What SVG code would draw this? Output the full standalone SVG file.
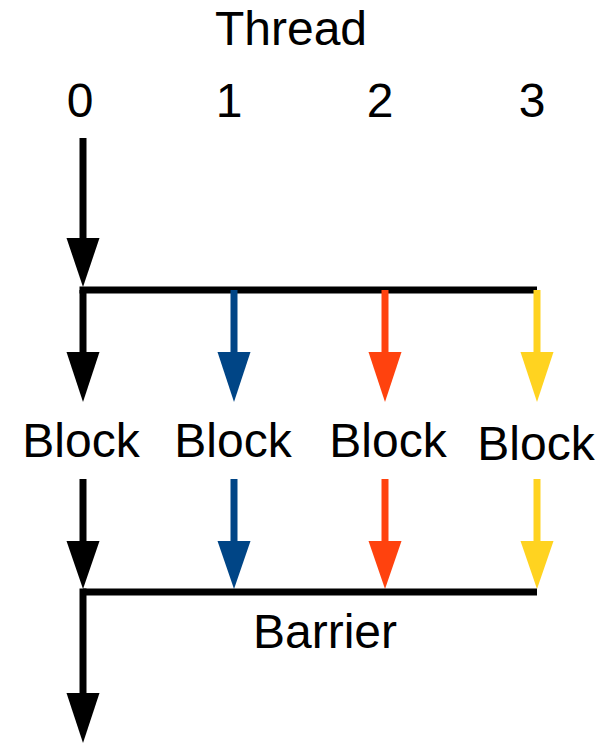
<svg xmlns="http://www.w3.org/2000/svg" width="598" height="743" viewBox="0 0 598 743">
<style>
text{font-family:"Liberation Sans",Arial,sans-serif;font-size:48px;fill:#000;text-anchor:middle}
.s{stroke-width:7;fill:none}
.k{stroke:#000}.kf{fill:#000}
.b{stroke:#004586}.bf{fill:#004586}
.r{stroke:#ff420e}.rf{fill:#ff420e}
.y{stroke:#ffd320}.yf{fill:#ffd320}
</style>
<rect width="598" height="743" fill="#fff"/>
<g id="labels">
<text x="291" y="45">Thread</text>
<text x="80" y="117">0</text>
<text x="229" y="117">1</text>
<text x="380" y="117">2</text>
<text x="532" y="117">3</text>
</g>
<g id="block0"><text x="81" y="457">Block</text></g>
<g id="block1"><text x="233" y="457">Block</text></g>
<g id="block2"><text x="388" y="457">Block</text></g>
<g id="block3"><text x="536" y="460">Block</text></g>
<g id="barrier"><text x="325" y="648">Barrier</text></g>
<g id="connectors">
<line class="s k" x1="83" y1="138" x2="83" y2="240"/>
<polygon class="kf" points="66.5,238 99.5,238 83,287"/>
<line class="s k" x1="79.5" y1="290" x2="537" y2="290"/>
<line class="s k" x1="83" y1="290" x2="83" y2="354"/>
<polygon class="kf" points="66.5,352 99.5,352 83,402"/>
<line class="s b" x1="234" y1="290" x2="234" y2="354"/>
<polygon class="bf" points="217.5,352 250.5,352 234,402"/>
<line class="s r" x1="385" y1="290" x2="385" y2="354"/>
<polygon class="rf" points="368.5,352 401.5,352 385,402"/>
<line class="s y" x1="537" y1="290" x2="537" y2="354"/>
<polygon class="yf" points="520.5,352 553.5,352 537,402"/>
<line class="s k" x1="83" y1="479" x2="83" y2="543"/>
<polygon class="kf" points="66.5,541 99.5,541 83,589"/>
<line class="s b" x1="234" y1="479" x2="234" y2="543"/>
<polygon class="bf" points="217.5,541 250.5,541 234,589"/>
<line class="s r" x1="385" y1="479" x2="385" y2="543"/>
<polygon class="rf" points="368.5,541 401.5,541 385,589"/>
<line class="s y" x1="537" y1="479" x2="537" y2="543"/>
<polygon class="yf" points="520.5,541 553.5,541 537,589"/>
<line class="s k" x1="83" y1="592" x2="537" y2="592"/>
<line class="s k" x1="83" y1="588.5" x2="83" y2="695"/>
<polygon class="kf" points="66.5,693 99.5,693 83,743"/>
</g>
</svg>
